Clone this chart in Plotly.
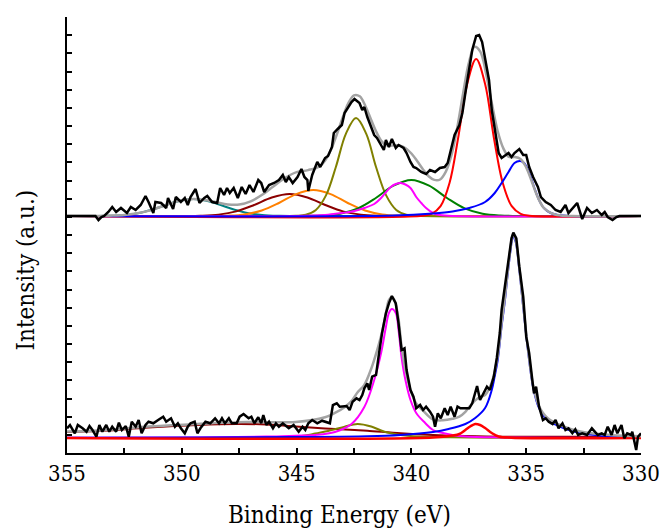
import plotly.graph_objects as go

# ---------------- TOP SPECTRUM (intensity above its own baseline) ----------------
top_be = [355.00, 353.76, 353.63, 353.50, 353.38, 353.20, 353.03, 352.86, 352.65, 352.39, 352.22, 352.01,
          351.79, 351.58, 351.45, 351.24, 351.15, 350.90, 350.68, 350.60, 350.38, 350.26, 350.04, 349.87,
          349.74, 349.62, 349.40, 349.23, 349.02, 348.89, 348.68, 348.46, 348.33, 348.16, 348.03, 347.91,
          347.74, 347.56, 347.39, 347.22, 347.05, 346.88, 346.67, 346.54, 346.41, 346.20, 345.98, 345.77,
          345.60, 345.47, 345.34, 345.17, 344.96, 344.79, 344.66, 344.53, 344.49, 344.32, 344.10, 343.97,
          343.76, 343.63, 343.46, 343.38, 343.21, 343.03, 342.91, 342.78, 342.61, 342.48, 342.26, 342.14,
          342.05, 341.92, 341.75, 341.62, 341.50, 341.32, 341.20, 341.11, 340.98, 340.85, 340.68, 340.56,
          340.34, 340.21, 340.04, 339.91, 339.79, 339.57, 339.36, 339.19, 338.97, 338.76, 338.55, 338.42,
          338.29, 338.12, 337.91, 337.78, 337.65, 337.48, 337.35, 337.18, 337.05, 336.92, 336.79, 336.62,
          336.50, 336.37, 336.20, 336.07, 335.94, 335.77, 335.64, 335.51, 335.30, 335.13, 335.00, 334.87,
          334.70, 334.49, 334.36, 334.15, 333.93, 333.72, 333.50, 333.29, 333.16, 332.99, 332.78, 332.56,
          332.35, 332.14, 331.92, 331.71, 331.58, 331.45, 331.24, 331.07, 330.94, 330.00]
top_counts = [0, 0, -4, -1, 0, 4, 9, 4, 8, 3, 9, 6,
              11, 20, 14, 3, 14, 13, 8, 18, 7, 19, 14, 18,
              11, 19, 27, 13, 18, 20, 14, 13, 28, 21, 28, 23,
              28, 18, 29, 22, 31, 24, 36, 33, 24, 31, 33, 36,
              41, 34, 39, 33, 39, 47, 39, 36, 25, 41, 54, 49,
              58, 60, 69, 83, 87, 91, 103, 108, 114, 117, 113, 106,
              109, 99, 89, 81, 78, 71, 66, 76, 69, 77, 68, 71,
              68, 63, 54, 49, 48, 44, 42, 46, 44, 48, 49, 53,
              66, 81, 91, 103, 123, 146, 166, 180, 181, 174, 156, 136,
              106, 86, 63, 58, 60, 63, 59, 63, 67, 61, 61, 49,
              39, 29, 19, 14, 11, 6, 4, 11, 3, 8, 13, -3,
              8, 3, 6, 1, 4, -1, -4, -1, 0, 0]

top_env_be = [355.0, 354.0, 353.5, 353.0, 352.5, 352.0, 351.5, 351.0, 350.5, 350.0, 349.5, 349.0,
              348.5, 348.0, 347.5, 347.0, 346.5, 346.0, 345.5, 345.0, 344.5, 344.0, 343.75, 343.5,
              343.25, 343.0, 342.75, 342.5, 342.25, 342.0, 341.75, 341.5, 341.25, 341.0, 340.75, 340.5,
              340.25, 340.0, 339.75, 339.5, 339.25, 339.0, 338.75, 338.5, 338.25, 338.0, 337.75, 337.5,
              337.25, 337.0, 336.75, 336.5, 336.25, 336.0, 335.75, 335.5, 335.25, 335.0, 334.75, 334.5,
              334.25, 334.0, 333.75, 333.5, 333.0, 330.0]
top_env = [0, 0.03, 0.12, 0.39, 1.06, 2.5, 4.9, 8.5, 12.5, 15.7, 17.1, 16.1,
           13.8, 11.6, 11.4, 14.6, 21.2, 29.8, 38.1, 43.9, 45.9, 49.5, 55.7, 66.4,
           81.5, 98.0, 112.6, 120.7, 119.7, 109.8, 96.0, 82.9, 73.5, 70.2, 70.7, 70.4,
           67.8, 62.5, 55.0, 46.8, 39.8, 36.1, 36.5, 44.3, 61.3, 88.8, 122.3, 153.0,
           169.2, 164.4, 142.6, 113.0, 85.5, 67.9, 59.0, 59.0, 57.1, 48.7, 34.0, 19.0,
           8.5, 4.0, 1.5, 0.6, 0, 0]

top_teal_be = [355, 354.0, 353.25, 352.5, 351.75, 351.0, 350.25, 349.5, 348.75, 348.0, 347.25, 346.5, 345.75, 345.0, 330]
top_teal = [0, 0.03, 0.2, 1.06, 3.6, 8.5, 14.3, 17, 14.3, 8.5, 3.6, 1.06, 0.2, 0.03, 0]

top_maroon_be = [355, 349.95, 349.18, 348.40, 347.63, 346.85, 346.08, 345.30, 344.53, 343.75, 342.98, 342.20, 341.43, 340.65, 330]
top_maroon = [0, 0.04, 0.29, 1.38, 4.6, 11, 18.5, 22, 18.5, 11, 4.6, 1.38, 0.29, 0.04, 0]

top_orange_be = [355, 348.77, 348.02, 347.27, 346.52, 345.77, 345.02, 344.27, 343.52, 342.77, 342.02, 341.27, 340.52, 339.77, 330]
top_orange = [0, 0.05, 0.34, 1.6, 5.5, 13, 21.9, 26, 21.9, 13, 5.5, 1.6, 0.34, 0.05, 0]

top_olive_be = [355, 345.04, 344.60, 344.16, 343.72, 343.29, 342.85, 342.41, 341.97, 341.54, 341.10, 340.66, 340.22, 339.79, 330]
top_olive = [0, 0.2, 1.3, 6.1, 20.6, 49, 82.4, 98, 82.4, 49, 20.6, 6.1, 1.3, 0.2, 0]

top_green_be = [355, 344.65, 343.88, 343.10, 342.33, 341.55, 340.78, 340.00, 339.23, 338.45, 337.68, 336.90, 336.13, 335.35, 330]
top_green = [0, 0.07, 0.47, 2.3, 7.6, 18, 30.3, 36, 30.3, 18, 7.6, 2.3, 0.47, 0.07, 0]

top_magenta_be = [355, 345.04, 343.76, 343.03, 342.48, 342.05, 341.62, 341.32, 340.90, 340.68, 340.47, 340.26,
                  340.04, 339.79, 339.57, 339.36, 339.06, 338.76, 338.21, 330]
top_magenta = [0, 0, 1, 3, 5, 8, 12, 18, 29, 32, 33, 31.5, 28, 19, 13, 8, 3, 1, 0, 0]

top_red_be = [355, 339.51, 339.12, 338.73, 338.34, 337.96, 337.57, 337.18, 336.79, 336.41, 336.02, 335.63, 335.24, 334.86, 330]
top_red = [0, 0.3, 2.1, 9.8, 33, 78.5, 132, 157, 132, 78.5, 33, 9.8, 2.1, 0.3, 0]

top_blue_be = [355, 340.77, 339.06, 338.21, 337.48, 336.79, 336.37, 336.07, 335.77, 335.51, 335.26, 335.09,
               334.87, 334.66, 334.44, 334.23, 333.93, 333.63, 333.08, 330]
top_blue = [0, 0.5, 2.5, 4.5, 8, 14, 23, 33, 44, 53, 55, 53, 43, 29, 16, 8, 3, 1, 0, 0]

# ---------------- BOTTOM SPECTRUM ----------------
bot_be = [355.00, 354.87, 354.66, 354.53, 354.32, 354.15, 354.02, 353.89, 353.72, 353.59, 353.46, 353.29,
          353.16, 353.03, 352.86, 352.74, 352.61, 352.44, 352.31, 352.18, 352.01, 351.88, 351.75, 351.58,
          351.45, 351.24, 351.03, 350.81, 350.68, 350.47, 350.30, 350.17, 350.04, 349.87, 349.74, 349.62,
          349.44, 349.32, 349.19, 348.97, 348.76, 348.55, 348.38, 348.25, 348.12, 347.95, 347.82, 347.61,
          347.48, 347.31, 347.09, 346.97, 346.84, 346.67, 346.54, 346.45, 346.32, 346.20, 346.03, 345.90,
          345.77, 345.60, 345.34, 345.13, 344.91, 344.74, 344.62, 344.49, 344.32, 344.10, 343.89, 343.68,
          343.55, 343.42, 343.25, 343.12, 342.99, 342.82, 342.69, 342.56, 342.39, 342.26, 342.14, 342.05,
          341.92, 341.84, 341.71, 341.54, 341.41, 341.28, 341.11, 340.98, 340.85, 340.68, 340.56, 340.43,
          340.30, 340.21, 340.04, 339.91, 339.79, 339.62, 339.49, 339.36, 339.19, 339.06, 338.97, 338.85,
          338.72, 338.55, 338.42, 338.29, 338.12, 337.99, 337.86, 337.69, 337.48, 337.35, 337.14, 337.01,
          336.84, 336.71, 336.58, 336.41, 336.28, 336.15, 336.07, 335.94, 335.77, 335.64, 335.56, 335.43,
          335.30, 335.13, 335.00, 334.87, 334.70, 334.66, 334.57, 334.44, 334.27, 334.15, 334.02, 333.85,
          333.72, 333.59, 333.42, 333.29, 333.16, 332.99, 332.86, 332.74, 332.56, 332.35, 332.14, 332.01,
          331.88, 331.71, 331.58, 331.45, 331.28, 331.15, 331.03, 330.85, 330.73, 330.60, 330.43, 330.38,
          330.21, 330.13, 330.00]
bot_counts = [9.7, 13, 4.7, 13, 9.7, 6.3, 12, 8, 1.3, 13, 6.3, 13,
              6.3, 11.3, 6.3, 15.3, 8, 12, 1.3, 16.3, 11.3, 18, 4.7, 13,
              16.3, 14.7, 18, 21.3, 16.3, 19.7, 11.3, 14.7, 9.7, 4.7, 11.3, 14.7,
              16.3, 4.7, 9.7, 16.3, 14.7, 19.7, 14.7, 19.7, 14.7, 19.7, 14.7, 14.7,
              21.3, 24, 19.7, 21.3, 14.7, 20.7, 14.7, 23, 13, 16.3, 9.7, 14.7,
              11.3, 14.7, 9.7, 13, 6.3, 11.3, 8, 14.7, 18, 14.7, 17.3, 15.3,
              14.7, 33, 34.7, 31.3, 31.3, 32, 28, 36.3, 39.7, 38, 43, 49.7,
              54.7, 48, 61.3, 63, 84.7, 104.7, 124.7, 134.7, 142, 134.7, 114.7, 88,
              89.7, 68, 48, 41.3, 29.7, 33, 28, 31.3, 26.3, 21.3, 11.3, 24.7,
              19.7, 29.7, 23, 31.3, 21.3, 31.3, 29.7, 29.7, 29.7, 34.7, 52, 38,
              46.3, 51.3, 48, 61.3, 80, 105, 128, 151, 181.3, 199.7, 205.3, 199.7,
              171.3, 141.3, 101.3, 84.7, 51.3, 44.7, 51.3, 31.3, 18, 19.7, 16.3, 14,
              18, 9.7, 14.7, 8, 9.7, 4.7, 8.7, 3, 4.7, 3, 9.7, 6.3,
              3, 4.7, 3, 11.3, 3, 13, 4.7, 13, -0.3, 4.7, 3, 6.3,
              -12, 1.3, 4.7]

bot_env_be = [355.00, 353.59, 351.45, 349.32, 347.18, 345.04, 343.76, 343.33, 342.91, 342.61, 342.35, 342.05,
              341.75, 341.50, 341.28, 341.11, 340.98, 340.85, 340.73, 340.56, 340.43, 340.26, 340.04, 339.79,
              339.49, 339.06, 338.63, 338.21, 337.91, 337.65, 337.44, 337.22, 337.01, 336.79, 336.50, 336.24,
              336.07, 335.94, 335.81, 335.68, 335.58, 335.47, 335.30, 335.13, 334.91, 334.70, 334.44, 334.06,
              333.38, 332.65, 331.24, 330.00]
bot_env = [6.4, 7.6, 11.4, 14.1, 16.0, 16.1, 20.8, 25.1, 30.8, 36.8, 45.5, 53.2,
           69.3, 87.2, 105.7, 124.9, 137.9, 141.1, 137.4, 118.9, 91.5, 68.2, 47.9, 34.6,
           27.3, 18.6, 17.7, 19.2, 21.4, 26.2, 32.3, 37.6, 41.2, 43.0, 55.6, 82.2,
           115.2, 137.8, 165.5, 190.4, 203.3, 199.0, 170.0, 132.8, 86.7, 52.7, 31.7, 19.7,
           11.6, 6.5, 2.8, 1.8]

bot_maroon_be = [355.00, 353.59, 351.45, 349.32, 347.61, 346.32, 345.04, 343.76, 342.48, 341.92, 340.47, 339.06,
                 337.65, 336.07, 332.65, 330.00]
bot_maroon = [6, 7, 10.5, 13, 14, 13.5, 11.5, 9.5, 8, 7.3, 4.7, 3, 2, 1.3, 1.2, 1]

bot_olive_be = [355, 348.03, 345.90, 345.04, 344.49, 344.19, 343.63, 343.33, 342.91, 342.35, 341.75, 341.20,
                340.47, 339.79, 338.33, 336.50, 333.93, 330]
bot_olive = [0, 0, 0.7, 1.3, 3, 4.5, 7, 8.7, 11.3, 14, 11.5, 6.5, 3, 1.5, 0.7, 0.3, 0, 0]

bot_magenta_be = [355, 349.32, 346.32, 345.04, 344.19, 343.33, 342.61, 342.05, 341.62, 341.32, 341.11, 340.98,
                  340.85, 340.68, 340.56, 340.43, 340.26, 340.04, 339.79, 339.40, 339.06, 338.63, 338.21, 337.65,
                  336.07, 333.93, 330]
bot_magenta = [0.2, 0.6, 1.4, 2.3, 3, 6, 14, 31, 58, 85, 111, 125,
               129, 125, 108, 81, 58, 38, 25, 15, 8, 5, 3, 1.5,
               0.6, 0.3, 0.1]

bot_blue_be = [355, 349.32, 345.04, 341.92, 340.47, 339.06, 338.38, 337.65, 337.22, 336.79, 336.50, 336.37,
               336.24, 336.07, 335.94, 335.81, 335.68, 335.58, 335.47, 335.30, 335.13, 334.91, 334.70, 334.44,
               334.06, 333.38, 332.65, 331.24, 330]
bot_blue = [0.2, 0.5, 1, 1.7, 3, 6, 9, 14, 20, 30, 48, 62,
            78, 112, 135, 163, 188, 201, 197, 168, 131, 85, 51, 30,
            18, 10, 5, 1.5, 0.7]

bot_red_be = [355, 339.06, 338.21, 337.91, 337.65, 337.44, 337.22, 337.01, 336.79, 336.50, 336.20, 335.64, 330]
bot_red = [0, 0.5, 2.5, 4, 8, 11.5, 14, 13, 10, 5, 1.5, 0.3, 0]

x_ticks = [355, 350, 345, 340, 335, 330]
x_title = "Binding Energy (eV)"
y_title = "Intensity (a.u.)"

# ---------------- FIGURE ----------------
TOP_OFFSET = 237
BOT_OFFSET = 15

fig = go.Figure()


def add(x, y, off, color, width, shape="spline"):
    fig.add_trace(go.Scatter(
        x=x, y=[v + off for v in y], mode="lines",
        line=dict(color=color, width=width, shape=shape, smoothing=1.0),
        showlegend=False, hoverinfo="skip"))


GRAY = "#a3a3a3"
# top components
add(top_teal_be, top_teal, TOP_OFFSET, "#008080", 2)
add(top_maroon_be, top_maroon, TOP_OFFSET, "#8b0000", 2)
add(top_orange_be, top_orange, TOP_OFFSET, "#ff8000", 2)
add(top_olive_be, top_olive, TOP_OFFSET, "#808000", 2)
add(top_green_be, top_green, TOP_OFFSET, "#008000", 2)
add(top_magenta_be, top_magenta, TOP_OFFSET, "#ff00ff", 2)
add(top_red_be, top_red, TOP_OFFSET, "#ff0000", 2)
add(top_blue_be, top_blue, TOP_OFFSET, "#0000ff", 2)
add(top_env_be, top_env, TOP_OFFSET, GRAY, 2.5)
add(top_be, top_counts, TOP_OFFSET, "#000000", 2.5, "linear")

# bottom components
add(bot_maroon_be, bot_maroon, BOT_OFFSET, "#8b0000", 2)
add(bot_olive_be, bot_olive, BOT_OFFSET, "#808000", 2)
add(bot_magenta_be, bot_magenta, BOT_OFFSET, "#ff00ff", 2)
add(bot_blue_be, bot_blue, BOT_OFFSET, "#0000ff", 2)
add(bot_red_be, bot_red, BOT_OFFSET, "#ff0000", 2.5)
add(bot_env_be, bot_env, BOT_OFFSET, GRAY, 2.5)
add(bot_be, bot_counts, BOT_OFFSET, "#000000", 2.5, "linear")

FONT = "DejaVu Serif Condensed, DejaVu Serif"

fig.update_layout(
    width=672, height=529,
    margin=dict(l=67, r=20, t=17, b=76),
    paper_bgcolor="white", plot_bgcolor="white",
    font=dict(family=FONT, color="black", size=22),
    xaxis=dict(
        range=[355, 330], tickvals=x_ticks, ticktext=[str(v) for v in x_ticks],
        ticks="inside", ticklen=5, tickwidth=1.5, tickcolor="black",
        showline=True, linecolor="black", linewidth=2,
        showgrid=False, zeroline=False,
        minor=dict(dtick=2.5, tick0=330, ticks="inside", ticklen=5, tickwidth=1.5, tickcolor="black", showgrid=False),
        tickfont=dict(size=22, family=FONT, color="black"),
    ),
    yaxis=dict(
        range=[0, 436], tick0=0, dtick=436 / 24,
        ticks="inside", ticklen=5, tickwidth=1.5, tickcolor="black",
        showticklabels=False, showline=True, linecolor="black", linewidth=2,
        showgrid=False, zeroline=False,
    ),
    annotations=[
        dict(text=x_title, xref="paper", yref="paper", x=0.4744, y=-0.142,
             xanchor="center", yanchor="middle", showarrow=False,
             font=dict(size=24, family=FONT, color="black")),
        dict(text=y_title, xref="paper", yref="paper", x=-0.072, y=0.42,
             xanchor="center", yanchor="middle", showarrow=False, textangle=-90,
             font=dict(size=24, family=FONT, color="black")),
    ],
)

fig.write_html("out.html")
